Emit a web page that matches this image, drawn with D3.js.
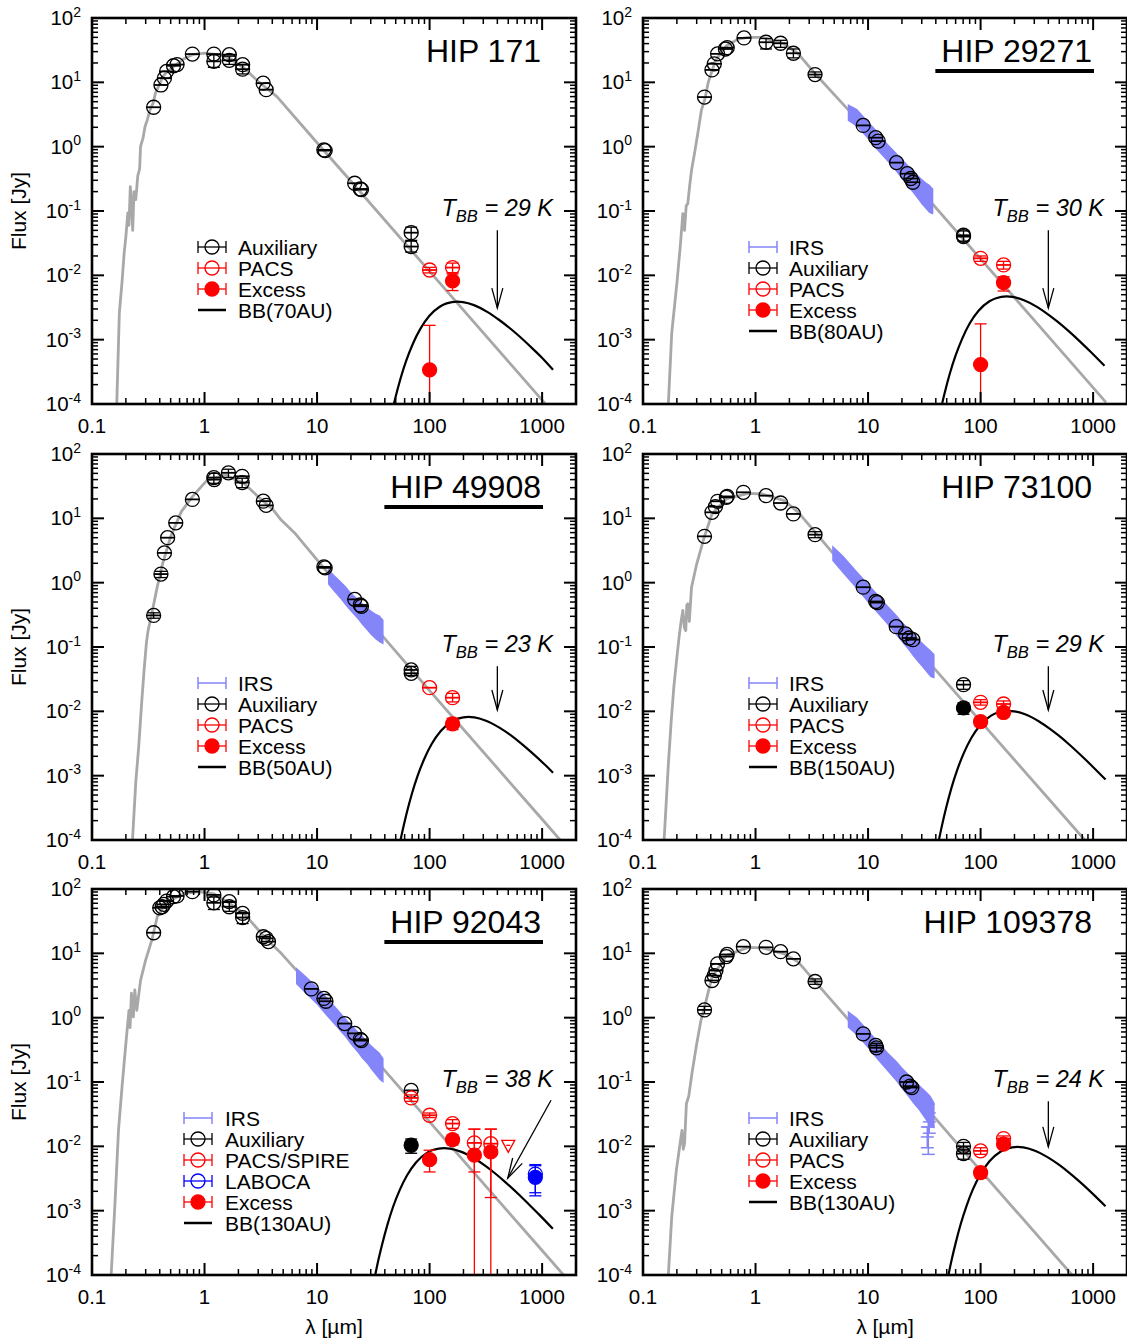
<!DOCTYPE html>
<html><head><meta charset="utf-8">
<script src="https://cdn.jsdelivr.net/npm/d3@7"></script>
<style>body{margin:0;background:#fff}svg{display:block}text{font-family:"Liberation Sans",Arial,Helvetica,sans-serif;fill:#000}</style>
</head><body><svg id="c" width="1127" height="1341"></svg>
<script>
// ---------------- DATA ----------------
const titles = ['HIP 171','HIP 29271','HIP 49908','HIP 73100','HIP 92043','HIP 109378'];
const underlined = [false,true,true,false,true,false];
const tbbValues = ['29','30','23','29','38','24'];
const bbNames = ['BB(70AU)','BB(80AU)','BB(50AU)','BB(150AU)','BB(130AU)','BB(130AU)'];
const xTickValues = [0.1,1,10,100,1000];
const xTickLabels = ['0.1','1','10','100','1000'];
const yTickExps = [2,1,0,-1,-2,-3,-4];
// arrows: [from [lambda, F], to [lambda, F]]
const arrows = [
  [[400,0.05],[400,0.0031]],[[400,0.05],[400,0.0031]],
  [[400,0.05],[400,0.0105]],[[400,0.05],[400,0.0105]],
  [[1200,0.052],[495,0.0032]],[[400,0.05],[400,0.0098]]];

// photosphere models [lambda(um), F(Jy)]
const model1 = [[0.166,1e-4],[0.175,0.0026],[0.185,0.008],[0.193,0.022],[0.2,0.04],[0.208,0.093],[0.213,0.06],[0.219,0.24],[0.225,0.12],[0.23,0.05],[0.236,0.2],[0.245,0.15],[0.255,0.35],[0.265,0.45],[0.27,1.0],[0.285,1.4],[0.296,2.06],[0.31,2.6],[0.327,3.7],[0.35,4.8],[0.366,6.8],[0.4,9.5],[0.426,12.3],[0.47,15],[0.53,17.6],[0.65,23],[0.78,26.9],[1.0,28.5],[1.3,27],[1.66,23.9],[2.24,16.7],[3.0,10.3],[4.4,6.0],[10,1.15],[20,0.29],[100,0.0115],[1000,1.15e-4],[1100,9.5e-5]];
const model2 = [[0.168,1e-4],[0.18,0.00126],[0.2,0.0075],[0.215,0.03],[0.226,0.091],[0.234,0.05],[0.242,0.12],[0.25,0.13],[0.26,0.25],[0.27,0.43],[0.29,0.88],[0.31,1.8],[0.33,3.66],[0.355,5.5],[0.38,10],[0.44,21.8],[0.55,37],[0.7,47],[0.86,50],[1.15,50],[1.8,39.5],[2.4,27.7],[3.4,13.5],[6.8,3.6],[10,1.8],[20,0.45],[100,0.018],[1000,1.8e-4],[1300,1.06e-4]];
const model3 = [[0.229,1e-4],[0.245,0.0008],[0.26,0.0028],[0.275,0.012],[0.29,0.043],[0.305,0.12],[0.315,0.18],[0.34,0.33],[0.38,0.86],[0.425,2.0],[0.5,5.2],[0.62,12.6],[0.78,21.7],[1.05,39],[1.53,47],[2.24,35],[3.0,21.7],[4.1,13.4],[4.8,9.4],[6.4,5.8],[11.8,1.6],[20,0.55],[100,0.021],[1000,2.1e-4],[1500,9.3e-5]];
const model4 = [[0.154,1e-4],[0.168,0.0015],[0.178,0.007],[0.188,0.024],[0.2,0.069],[0.21,0.15],[0.218,0.25],[0.226,0.37],[0.233,0.2],[0.24,0.18],[0.245,0.45],[0.25,0.47],[0.258,0.25],[0.27,0.85],[0.3,1.95],[0.35,5.1],[0.41,11.7],[0.55,20],[0.86,24.5],[1.15,23.9],[1.8,18.8],[2.4,12.4],[3.4,6.05],[5.1,2.6],[10,0.7],[100,0.007],[843,1e-4],[900,8.6e-5]];
const model5 = [[0.148,1e-4],[0.16,0.0013],[0.172,0.018],[0.186,0.095],[0.2,0.4],[0.213,1.3],[0.218,0.7],[0.224,2.4],[0.233,1.03],[0.24,2.7],[0.25,1.3],[0.27,3.8],[0.3,7.9],[0.34,16],[0.38,37],[0.46,63],[0.67,85.6],[0.9,91],[1.22,83.6],[1.66,60],[2.24,41.8],[3.5,17],[4.8,10],[10,2.4],[20,0.6],[100,0.024],[1000,2.4e-4],[1550,1e-4]];
const model6 = [[0.168,1e-4],[0.18,0.0008],[0.198,0.0043],[0.215,0.012],[0.222,0.0177],[0.228,0.009],[0.234,0.011],[0.243,0.046],[0.255,0.06],[0.272,0.135],[0.3,0.39],[0.327,0.9],[0.352,1.46],[0.41,4.26],[0.55,9.2],[0.86,12.4],[1.15,12.2],[1.8,9.8],[2.4,7.3],[3.4,3.6],[6.8,0.9],[10,0.44],[100,0.0042],[650,1e-4],[700,8.6e-5]];

// blackbody curves [lambda, F]
const bb1 = [[45.1,6.1e-5],[49.6,1.24e-4],[55.1,2.47e-4],[62.0,4.72e-4],[70.9,8.58e-4],[82.7,1.47e-3],[99.2,2.33e-3],[124,3.28e-3],[141.7,3.66e-3],[176,3.9e-3],[198,3.83e-3],[248,3.44e-3],[331,2.66e-3],[413,2.04e-3],[496,1.6e-3],[620,1.15e-3],[827,7.2e-4],[992,5.29e-4],[1250,3.4e-4]];
const bb2 = [[43.6,7.35e-5],[48.0,1.5e-4],[53.3,2.98e-4],[60.0,5.68e-4],[68.5,1.03e-3],[79.9,1.78e-3],[95.9,2.81e-3],[119.9,3.95e-3],[137,4.41e-3],[170.1,4.7e-3],[191.8,4.62e-3],[239.8,4.14e-3],[319.7,3.21e-3],[399.7,2.46e-3],[479.6,1.92e-3],[599.5,1.38e-3],[799.3,8.69e-4],[959.2,6.37e-4],[1262,3.92e-4]];
const bb3 = [[52.1,6.13e-5],[56.9,1.28e-4],[62.6,2.62e-4],[69.5,5.19e-4],[78.2,9.91e-4],[89.4,1.8e-3],[104.3,3.1e-3],[125.1,4.9e-3],[156.4,6.89e-3],[178.7,7.7e-3],[221.8,8.2e-3],[250.2,8.06e-3],[312.8,7.22e-3],[417.1,5.59e-3],[521.3,4.3e-3],[625.6,3.36e-3],[782,2.41e-3],[1042.7,1.52e-3],[1251,1.11e-3]];
const bb4 = [[41.3,7.62e-5],[45.1,1.6e-4],[49.6,3.25e-4],[55.1,6.46e-4],[62.0,1.23e-3],[70.9,2.24e-3],[82.7,3.86e-3],[99.2,6.09e-3],[124,8.57e-3],[141.7,9.58e-3],[175.9,1.02e-2],[198.4,1.0e-2],[248.1,8.99e-3],[330.7,6.96e-3],[413.4,5.34e-3],[496.1,4.18e-3],[620.1,3.0e-3],[826.8,1.88e-3],[992.2,1.38e-3],[1288,8.72e-4]];
const bb5 = [[31.6,7.02e-5],[34.4,1.47e-4],[37.9,3.0e-4],[42.1,5.95e-4],[47.3,1.14e-3],[54.1,2.07e-3],[63.1,3.55e-3],[75.7,5.61e-3],[94.7,7.9e-3],[108.2,8.83e-3],[134.3,9.4e-3],[151.4,9.24e-3],[189.3,8.28e-3],[252.4,6.41e-3],[315.5,4.93e-3],[378.6,3.85e-3],[473.3,2.76e-3],[631,1.74e-3],[757.2,1.27e-3],[946.5,8.6e-4],[1245,5.23e-4]];
const bb6 = [[50.0,7.32e-5],[54.5,1.53e-4],[60.0,3.13e-4],[66.6,6.2e-4],[74.9,1.18e-3],[85.6,2.16e-3],[99.9,3.7e-3],[119.9,5.85e-3],[149.9,8.23e-3],[171.3,9.2e-3],[212.6,9.8e-3],[239.8,9.63e-3],[299.8,8.63e-3],[399.7,6.68e-3],[499.6,5.14e-3],[599.5,4.01e-3],[749.4,2.88e-3],[999.2,1.81e-3],[1289,1.17e-3]];

// IRS spectra [lambda, F, half-width in dex]
const irs2 = [[6.6,3.4,0.13],[8,2.8,0.14],[10,1.8,0.14],[12,1.25,0.15],[15,0.8,0.14],[18,0.56,0.15],[20,0.45,0.16],[23,0.34,0.17],[25,0.29,0.18],[28,0.23,0.19],[30,0.2,0.2],[33,0.17,0.21],[35,0.155,0.22],[38,0.14,0.2]];
const irs3 = [[12.5,1.25,0.12],[14,1.0,0.13],[16,0.78,0.14],[18,0.62,0.15],[20,0.5,0.15],[23,0.39,0.16],[25,0.33,0.17],[28,0.27,0.18],[30,0.24,0.19],[33,0.21,0.2],[36,0.19,0.21],[39,0.17,0.19]];
const irs4 = [[4.8,2.9,0.12],[6,1.91,0.14],[8,1.08,0.14],[10,0.69,0.15],[12,0.48,0.15],[15,0.31,0.15],[18,0.215,0.16],[20,0.172,0.16],[23,0.13,0.17],[25,0.11,0.18],[28,0.088,0.19],[30,0.077,0.19],[33,0.064,0.2],[36,0.055,0.21],[39,0.05,0.19]];
const irs5 = [[6.5,4.5,0.13],[8,3.2,0.14],[10,2.2,0.14],[12,1.54,0.15],[15,0.99,0.15],[18,0.69,0.15],[20,0.55,0.16],[23,0.42,0.17],[25,0.355,0.18],[28,0.285,0.18],[30,0.246,0.19],[33,0.205,0.2],[36,0.175,0.21],[39,0.15,0.19]];
const irs6 = [[6.6,0.95,0.13],[8,0.72,0.14],[10,0.46,0.14],[12,0.32,0.15],[15,0.204,0.15],[18,0.145,0.16],[20,0.115,0.17],[23,0.087,0.18],[25,0.073,0.19],[28,0.059,0.2],[30,0.051,0.21],[33,0.042,0.23],[36,0.035,0.24],[39,0.03,0.2]];
const irsBars6 = [[34.3,0.02,0.0075,0.045],[33.6,0.014,0.0095,0.02],[35,0.024,0.016,0.033]];

// photometry: [lambda, F, (lo, hi)]
const aux1 = [[0.353,4.1],[0.41,9.1],[0.44,11.6],[0.46,14.8],[0.53,18.1],[0.57,18.9],[0.78,27.5],[1.21,27.5],[1.21,21.2,17.1,27],[1.66,26.9],[1.66,22,19,25.5],[2.18,18.8],[2.18,16,13.5,19],[3.32,9.7],[3.53,7.7],[11.5,0.89],[11.8,0.87],[21.6,0.27],[24.2,0.22],[24.8,0.215],[68.6,0.046,0.035,0.056],[68.6,0.028,0.023,0.034]];
const pacs1 = [[100,0.0121,0.0109,0.0133],[160,0.0132,0.011,0.0155]];
const exc1 = [[100,0.00034,1e-6,0.00167],[160,0.0082,0.0058,0.0105]];

const aux2 = [[0.352,5.9],[0.41,15.6],[0.43,19.4],[0.46,27.7],[0.54,33],[0.56,34.6],[0.79,49],[1.24,42,33,48],[1.67,40.5,35,45],[2.17,28.3,24,33],[3.38,13.2,12,14.5],[9.05,2.14],[11.7,1.38],[12.3,1.22],[17.9,0.565],[22.3,0.38],[24,0.32],[25,0.28],[70.5,0.042,0.034,0.049],[70.5,0.040]];
const pacs2 = [[100,0.0184,0.0165,0.02],[160,0.0145,0.0125,0.0165]];
const exc2 = [[100,0.00041,1e-6,0.00176],[160,0.0077,0.0057,0.0095]];

const aux3 = [[0.353,0.31,0.28,0.34],[0.41,1.36,1.2,1.5],[0.44,2.9],[0.47,5.0],[0.555,8.5],[0.78,19.7],[1.21,43,35,50],[1.22,40],[1.63,51,43,58],[2.16,45],[2.16,36,30,42],[3.33,18.5],[3.53,15.9],[11.5,1.76],[11.8,1.7],[21.6,0.55],[24.2,0.45],[24.8,0.43],[68.6,0.044,0.036,0.05],[68.6,0.039]];
const pacs3 = [[100,0.0233],[160,0.0163,0.014,0.019]];
const exc3 = [[160,0.0064,0.0052,0.0078]];

const aux4 = [[0.352,5.25],[0.41,12.4],[0.44,15.2],[0.46,18.4],[0.55,21.2],[0.56,21.9],[0.78,25.4],[1.24,22.5],[1.67,17.3],[2.17,11.7],[3.38,5.57,5,6.2],[9.05,0.85],[11.7,0.51],[12.1,0.49],[17.8,0.207],[21.5,0.16],[23.2,0.138],[25,0.13],[70.5,0.026,0.022,0.03]];
const auxExc4 = [[70.5,0.0113,0.009,0.0135]];
const pacs4 = [[100,0.0138,0.0125,0.0152],[160,0.013,0.0115,0.0145]];
const exc4 = [[100,0.0069,0.0058,0.008],[160,0.0096,0.0082,0.011]];

const aux5 = [[0.353,20.9],[0.4,51],[0.42,53],[0.435,57.7],[0.46,65],[0.53,76],[0.57,78],[0.78,91],[1.21,81],[1.21,61,48,75],[1.66,63.5],[1.66,53,45,62],[2.18,41.8],[2.18,36,29,43],[3.33,18.1],[3.53,17.1],[3.7,15.2],[8.9,2.8],[11.5,1.99],[12,1.8],[17.6,0.81],[21.6,0.57],[24.2,0.46],[24.8,0.44],[68.6,0.074]];
const auxExc5 = [[68.6,0.0104,0.0078,0.013]];
const pacs5 = [[68.6,0.0566,0.05,0.063],[100,0.0304,0.028,0.033],[160,0.0226,0.019,0.026],[250,0.0113,0.004,0.0185],[350,0.011,0.0016,0.0185]];
const upper5 = [[500,0.0100]];
const laboca5 = [[870,0.0037,0.0019,0.0052]];
const labocaExc5 = [[870,0.0033,0.0017,0.005]];
const exc5 = [[100,0.0062,0.004,0.0087],[160,0.0127,0.0105,0.015],[250,0.0073,1e-6,0.0185],[350,0.0082,1e-6,0.0185]];

const aux6 = [[0.352,1.32,1.15,1.5],[0.41,3.78],[0.43,4.5],[0.445,5.4],[0.46,6.86],[0.55,8.9],[0.56,9.6],[0.78,12.7],[1.24,12.4],[1.67,10.6],[2.17,8.2],[3.38,3.65,3.3,4.0],[9.05,0.56],[11.7,0.37],[11.9,0.34,0.3,0.4],[22,0.1],[23.6,0.086],[24.5,0.082],[70.5,0.01,0.0085,0.0115],[70.5,0.0077,0.0063,0.009]];
const pacs6 = [[100,0.0085,0.0075,0.0095],[160,0.0132,0.012,0.0145]];
const exc6 = [[100,0.0039,0.0032,0.0046],[160,0.0108,0.0095,0.012]];

// ---------------- BUILD ----------------
const RED='#ff0000', BLUE='#0000ff', IRSC='#8585fa', GRAY='#a8a8a8';
const panels = [
  {model:model1,bb:bb1,aux:aux1,pacs:pacs1,exc:exc1,pacsName:'PACS'},
  {model:model2,bb:bb2,irs:irs2,aux:aux2,pacs:pacs2,exc:exc2,pacsName:'PACS'},
  {model:model3,bb:bb3,irs:irs3,aux:aux3,pacs:pacs3,exc:exc3,pacsName:'PACS'},
  {model:model4,bb:bb4,irs:irs4,aux:aux4,auxExc:auxExc4,pacs:pacs4,exc:exc4,pacsName:'PACS'},
  {model:model5,bb:bb5,irs:irs5,aux:aux5,auxExc:auxExc5,pacs:pacs5,exc:exc5,upper:upper5,laboca:laboca5,labocaExc:labocaExc5,pacsName:'PACS/SPIRE'},
  {model:model6,bb:bb6,irs:irs6,irsBars:irsBars6,aux:aux6,pacs:pacs6,exc:exc6,pacsName:'PACS'}
];

const W=484, H=386, R=7;
const colX=[92,643], rowY=[18,454,889];
const svg=d3.select('#c');
const FS=20.5;

function drawPanel(p,i){
  const x0=colX[i%2], y0=rowY[Math.floor(i/2)], x1=x0+W, y1=y0+H;
  const x=d3.scaleLog().domain([0.1,2000]).range([x0,x1]);
  const y=d3.scaleLog().domain([1e-4,100]).range([y1,y0]);
  const g=svg.append('g');
  g.append('clipPath').attr('id','cl'+i).append('rect').attr('x',x0).attr('y',y0).attr('width',W).attr('height',H);
  const pl=g.append('g').attr('clip-path',`url(#cl${i})`);

  // photosphere model
  pl.append('path').datum(p.model)
    .attr('d',d3.line().x(d=>x(d[0])).y(d=>y(d[1])))
    .attr('fill','none').attr('stroke',GRAY).attr('stroke-width',2.8).attr('stroke-linejoin','round');
  // IRS
  if(p.irs){
    pl.append('path').datum(p.irs)
      .attr('d',d3.area().x(d=>x(d[0])).y0(d=>y(d[1]*Math.pow(10,-d[2]))).y1(d=>y(d[1]*Math.pow(10,d[2]))))
      .attr('fill',IRSC);
  }
  if(p.irsBars){
    p.irsBars.forEach(d=>{
      const cx=x(d[0]);
      pl.append('line').attr('x1',cx).attr('x2',cx).attr('y1',y(d[2])).attr('y2',y(d[3])).attr('stroke',IRSC).attr('stroke-width',1.5);
      [d[1],d[2],d[3]].forEach(v=>pl.append('line').attr('x1',cx-6.5).attr('x2',cx+6.5).attr('y1',y(v)).attr('y2',y(v)).attr('stroke',IRSC).attr('stroke-width',1.5));
    });
  }
  // BB
  pl.append('path').datum(p.bb)
    .attr('d',d3.line().curve(d3.curveMonotoneX).x(d=>x(d[0])).y(d=>y(d[1])))
    .attr('fill','none').attr('stroke','#000').attr('stroke-width',2.2);

  function pts(data,color,filled){
    if(!data) return;
    data.forEach(d=>{
      const cx=x(d[0]), cy=y(d[1]);
      if(d.length>=4){
        const ylo=y(Math.max(d[2],1e-6)), yhi=y(d[3]);
        pl.append('line').attr('x1',cx).attr('x2',cx).attr('y1',ylo).attr('y2',yhi).attr('stroke',color).attr('stroke-width',1.3);
        if(d[2]>=1e-4) pl.append('line').attr('x1',cx-6).attr('x2',cx+6).attr('y1',ylo).attr('y2',ylo).attr('stroke',color).attr('stroke-width',1.3);
        pl.append('line').attr('x1',cx-6).attr('x2',cx+6).attr('y1',yhi).attr('y2',yhi).attr('stroke',color).attr('stroke-width',1.3);
      }
      pl.append('circle').attr('cx',cx).attr('cy',cy).attr('r',R)
        .attr('fill',filled?color:'none').attr('stroke',color).attr('stroke-width',1.3);
      if(!filled) pl.append('line').attr('x1',cx-R).attr('x2',cx+R).attr('y1',cy).attr('y2',cy).attr('stroke',color).attr('stroke-width',1.8);
    });
  }
  pts(p.aux,'#000',false);
  pts(p.auxExc,'#000',true);
  pts(p.pacs,RED,false);
  if(p.upper){
    p.upper.forEach(d=>{
      const cx=x(d[0]), cy=y(d[1]);
      pl.append('path').attr('d',`M${cx-6.5},${cy-6}L${cx+6.5},${cy-6}L${cx},${cy+6}Z`).attr('fill','none').attr('stroke',RED).attr('stroke-width',1.3);
      pl.append('line').attr('x1',cx-2).attr('x2',cx+2).attr('y1',cy-1).attr('y2',cy-1).attr('stroke',RED).attr('stroke-width',1.3);
    });
  }
  pts(p.laboca,BLUE,false);
  pts(p.labocaExc,BLUE,true);
  pts(p.exc,RED,true);

  // ticks
  const tk=g.append('g').attr('stroke','#000');
  const maj=12, mn=6;
  const xMinor=[], yMinor=[];
  for(let k=-1;k<=3;k++) for(let m=2;m<=9;m++){const v=m*Math.pow(10,k); if(v<2000) xMinor.push(v);}
  for(let k=-4;k<=1;k++) for(let m=2;m<=9;m++) yMinor.push(m*Math.pow(10,k));
  const tl=(a,b,c,d,w)=>tk.append('line').attr('x1',a).attr('y1',b).attr('x2',c).attr('y2',d).attr('stroke-width',w);
  xTickValues.forEach(v=>{const X=x(v); tl(X,y1,X,y1-maj,2); tl(X,y0,X,y0+maj,2);});
  xMinor.forEach(v=>{const X=x(v); tl(X,y1,X,y1-mn,1.5); tl(X,y0,X,y0+mn,1.5);});
  yTickExps.forEach(e=>{const Y=y(Math.pow(10,e)); tl(x0,Y,x0+maj,Y,2); tl(x1,Y,x1-maj,Y,2);});
  yMinor.forEach(v=>{const Y=y(v); tl(x0,Y,x0+mn,Y,1.5); tl(x1,Y,x1-mn,Y,1.5);});
  g.append('rect').attr('x',x0).attr('y',y0).attr('width',W).attr('height',H).attr('fill','none').attr('stroke','#000').attr('stroke-width',2.6);

  // tick labels
  xTickValues.forEach((v,j)=>{
    g.append('text').attr('x',x(v)).attr('y',y1+29).attr('text-anchor','middle').attr('font-size',FS).text(xTickLabels[j]);
  });
  yTickExps.forEach(e=>{
    const t=g.append('text').attr('x',x0-11).attr('y',y(Math.pow(10,e))+7).attr('text-anchor','end').attr('font-size',FS);
    t.append('tspan').text('10');
    t.append('tspan').attr('dy',-8.5).attr('font-size',14).text(String(e));
  });

  // title
  const tt=g.append('text').attr('x',x0+449).attr('y',y0+44).attr('text-anchor','end').attr('font-size',32).text(titles[i]);
  if(underlined[i]){
    const bx=tt.node().getBBox();
    g.append('line').attr('x1',bx.x-6).attr('x2',bx.x+bx.width+2).attr('y1',y0+53).attr('y2',y0+53).attr('stroke','#000').attr('stroke-width',4);
  }
  // T_BB
  const tb=g.append('text').attr('x',x0+461).attr('y',y0+198).attr('text-anchor','end').attr('font-size',23.5).attr('font-style','italic');
  tb.append('tspan').text('T');
  tb.append('tspan').attr('dy',5.5).attr('font-size',16.5).text('BB');
  tb.append('tspan').attr('dy',-5.5).text(' = '+tbbValues[i]+' K');
  // arrow
  const a=arrows[i]; const ax1=x(a[0][0]), ay1=y(a[0][1]), ax2=x(a[1][0]), ay2=y(a[1][1]);
  g.append('line').attr('x1',ax1).attr('y1',ay1).attr('x2',ax2).attr('y2',ay2).attr('stroke','#000').attr('stroke-width',1.3);
  const ang=Math.atan2(ay2-ay1,ax2-ax1), hl=20, hw=5.5;
  const bxp=ax2-hl*Math.cos(ang), byp=ay2-hl*Math.sin(ang);
  const px=-Math.sin(ang)*hw, py=Math.cos(ang)*hw;
  g.append('path').attr('d',`M${bxp+px},${byp+py}L${ax2},${ay2}L${bxp-px},${byp-py}`).attr('fill','none').attr('stroke','#000').attr('stroke-width',1.3);

  // legend
  const items=[];
  if(p.irs) items.push({t:'irs',c:IRSC,n:'IRS'});
  items.push({t:'open',c:'#000',n:'Auxiliary'});
  items.push({t:'open',c:RED,n:p.pacsName});
  if(p.laboca) items.push({t:'open',c:BLUE,n:'LABOCA'});
  items.push({t:'filled',c:RED,n:'Excess'});
  items.push({t:'line',c:'#000',n:bbNames[i]});
  const lcx = (i===4)? x0+106 : x0+120;
  const ltx = (i===4)? x0+133 : x0+146;
  items.forEach((it,j)=>{
    const cy=y0+229+21*j;
    const lg=g.append('g');
    if(it.t==='line'){
      lg.append('line').attr('x1',lcx-14).attr('x2',lcx+14).attr('y1',cy).attr('y2',cy).attr('stroke','#000').attr('stroke-width',2.5);
    } else {
      const sw = it.t==='irs'?1.5:1.3;
      lg.append('line').attr('x1',lcx-14).attr('x2',lcx+14).attr('y1',cy).attr('y2',cy).attr('stroke',it.c).attr('stroke-width',sw);
      [lcx-14,lcx+14].forEach(cx=>lg.append('line').attr('x1',cx).attr('x2',cx).attr('y1',cy-6).attr('y2',cy+6).attr('stroke',it.c).attr('stroke-width',sw));
      if(it.t!=='irs') lg.append('circle').attr('cx',lcx).attr('cy',cy).attr('r',R).attr('fill',it.t==='filled'?it.c:'none').attr('stroke',it.c).attr('stroke-width',1.3);
    }
    lg.append('text').attr('x',ltx).attr('y',cy+7.5).attr('font-size',21).text(it.n);
  });

  // axis labels
  if(i%2===0){
    g.append('text').attr('transform',`translate(26,${y0+193}) rotate(-90)`).attr('text-anchor','middle').attr('font-size',21).text('Flux [Jy]');
  }
  if(i>=4){
    g.append('text').attr('x',x0+242).attr('y',1334).attr('text-anchor','middle').attr('font-size',21).text('λ [µm]');
  }
}
panels.forEach(drawPanel);
</script></body></html>
